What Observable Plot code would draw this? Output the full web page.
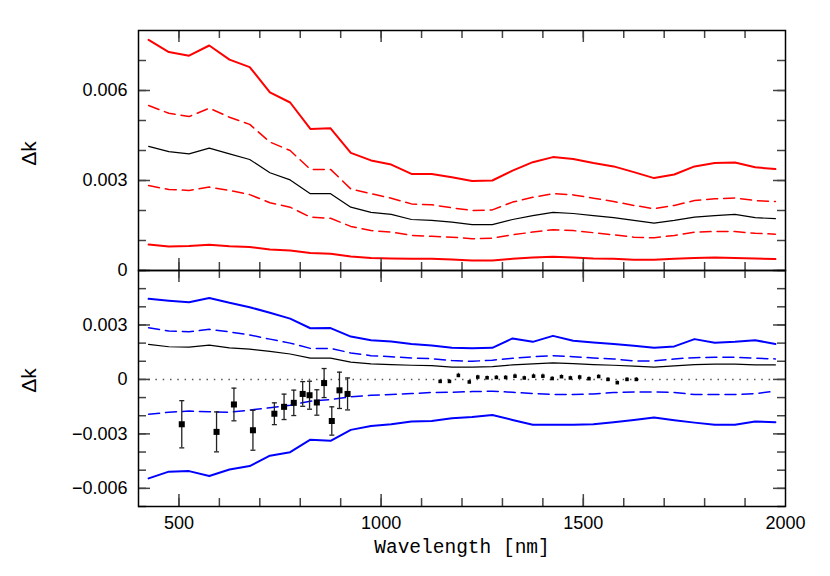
<!DOCTYPE html>
<html><head><meta charset="utf-8">
<script src="https://cdn.jsdelivr.net/npm/d3@7"></script>
<script src="https://cdn.jsdelivr.net/npm/@observablehq/plot@0.6"></script>
<style>
body{margin:0;background:#fff;}
#chart{position:relative;width:830px;height:576px;}
#chart svg{position:absolute;left:0;background:transparent;}
</style></head><body><div id="chart"></div>
<script>
// ---- data ----
const wl = [425,475,525,575,625,675,725,775,825,875,925,975,1025,1075,1125,1175,1225,1275,1325,1375,1425,1475,1525,1575,1625,1675,1725,1775,1825,1875,1925,1975];

const topRedHi = [0.00769,0.00728,0.00716,0.0075,0.00703,0.00678,0.00594,0.0056,0.00472,0.00474,0.00392,0.00367,0.00353,0.00322,0.00322,0.00311,0.00298,0.003,0.00333,0.00361,0.00378,0.00372,0.00358,0.00347,0.00328,0.00308,0.0032,0.00347,0.00358,0.0036,0.00344,0.00338];
const topRedDashHi = [0.0055,0.00524,0.00513,0.00541,0.00511,0.00487,0.00428,0.004,0.00337,0.00337,0.00272,0.00256,0.00241,0.00222,0.00219,0.00209,0.002,0.00202,0.00228,0.00244,0.00256,0.00252,0.00241,0.0023,0.00217,0.00206,0.00217,0.00233,0.00239,0.00242,0.00233,0.0023];
const topBlack = [0.00414,0.00396,0.00389,0.00408,0.00389,0.0037,0.00326,0.00302,0.00256,0.00256,0.00211,0.00194,0.00187,0.0017,0.00167,0.00161,0.00153,0.00153,0.0017,0.00183,0.00194,0.0019,0.00183,0.00176,0.00167,0.00158,0.00167,0.00178,0.00183,0.00187,0.00176,0.00173];
const topRedDashLo = [0.00283,0.0027,0.00267,0.00278,0.00267,0.00253,0.00226,0.00211,0.00178,0.00174,0.00147,0.00133,0.00128,0.00117,0.00114,0.00111,0.00106,0.00108,0.00119,0.00128,0.00136,0.00133,0.00126,0.00119,0.00111,0.00109,0.00117,0.00128,0.0013,0.0013,0.00124,0.00121];
const topRedLo = [0.00087,0.0008,0.00082,0.00086,0.00081,0.00078,0.0007,0.00067,0.00058,0.00056,0.00047,0.00042,0.0004,0.00039,0.00039,0.00037,0.00033,0.00033,0.00039,0.00043,0.00046,0.00043,0.0004,0.00039,0.00036,0.00036,0.00039,0.00042,0.00043,0.00042,0.0004,0.00038];

const botBlueHi = [0.00444,0.00434,0.00425,0.00449,0.00422,0.00398,0.00367,0.00335,0.00282,0.00283,0.00236,0.00216,0.00209,0.00195,0.00187,0.00174,0.00172,0.00174,0.00226,0.00207,0.0024,0.00213,0.00204,0.00195,0.00185,0.00174,0.00182,0.00222,0.00202,0.00207,0.00216,0.00195];
const botBlueDashHi = [0.00285,0.00267,0.00262,0.00276,0.00262,0.00245,0.00222,0.002,0.00171,0.00171,0.00146,0.00131,0.00125,0.00118,0.00114,0.00104,0.001,0.00106,0.00117,0.00125,0.00131,0.00125,0.00118,0.00113,0.00102,0.00102,0.00113,0.0012,0.00122,0.00122,0.00117,0.00113];
const botBlack = [0.00193,0.0018,0.00178,0.00189,0.00174,0.00167,0.00155,0.0014,0.00117,0.00117,0.00095,0.00086,0.00082,0.00078,0.00076,0.00068,0.00068,0.00071,0.0008,0.00086,0.00091,0.00087,0.00082,0.00078,0.00073,0.00068,0.00075,0.00082,0.00084,0.00084,0.0008,0.0008];
const botBlueDashLo = [-0.00192,-0.00181,-0.00174,-0.00178,-0.00181,-0.00169,-0.00156,-0.00142,-0.0012,-0.00111,-0.00096,-0.00087,-0.00083,-0.00078,-0.00072,-0.00071,-0.00067,-0.00065,-0.00071,-0.00078,-0.00083,-0.00083,-0.0008,-0.00072,-0.00069,-0.00069,-0.00072,-0.00083,-0.00083,-0.00083,-0.00078,-0.00065];
const botBlueLo = [-0.00545,-0.00508,-0.00505,-0.00532,-0.00496,-0.00477,-0.0042,-0.00401,-0.00332,-0.00338,-0.00278,-0.00256,-0.00247,-0.00232,-0.00229,-0.00214,-0.00207,-0.00196,-0.00223,-0.0025,-0.0025,-0.0025,-0.00247,-0.00236,-0.00223,-0.0021,-0.00225,-0.00238,-0.0025,-0.0025,-0.00232,-0.00236];

const ptWl  = [507,593,636,683,736,760,784,806,823,841,859,878,897,917];
const ptVal = [-0.00247,-0.00289,-0.00138,-0.0028,-0.00189,-0.00151,-0.00129,-0.0008,-0.00087,-0.00127,-0.0002,-0.00229,-0.0006,-0.0008];
const ptErr = [0.0013,0.0011,0.0009,0.0011,0.0006,0.0007,0.0007,0.00068,0.00077,0.0007,0.0008,0.00078,0.001,0.00088];

const spWl  = [1146,1169,1191,1218,1239,1262,1285,1308,1331,1354,1377,1400,1423,1446,1468,1491,1514,1538,1561,1584,1608,1631];
const spVal = [-0.00011,-0.00011,0.00022,-0.00014,0.00013,0.00009,0.00011,0.00011,0.00018,0.00008,0.00018,0.00018,0.00005,0.00015,0.00008,0.00013,0.00004,0.00016,0,-0.00018,0,0];
const spErr = [0.0001,0.0001,0.00012,0.0001,0.0001,0.0001,0.0001,0.0001,0.00012,0.0001,0.00012,0.00012,0.0001,0.0001,0.0001,0.0001,0.0001,0.0001,0.0001,0.0001,0.0001,0.0001];

const xMinorTicks = [500,600,700,800,900,1000,1100,1200,1300,1400,1500,1600,1700,1800,1900];
const xMajorTicks = [500,1000,1500];
const xTickLabels = [500,1000,1500,2000];
const topYMinor = [0,0.001,0.002,0.003,0.004,0.005,0.006,0.007];
const topYMajor = [0,0.003,0.006];
const botYMinor = [-0.007,-0.006,-0.005,-0.004,-0.003,-0.002,-0.001,0,0.001,0.002,0.003,0.004,0.005];
const botYMajor = [-0.006,-0.003,0,0.003];
const yLabel = "Δk";
const xLabel = "Wavelength [nm]";

// ---- layout ----
const W = 830, ML = 138, MR = 45;
const FW = W - ML - MR;
const xDom = [400, 2000];
const topDom = [0, 0.008], botDom = [-0.007, 0.006];
const sans = "Liberation Sans, Arial, Helvetica, sans-serif";
const series = arr => wl.map((w, i) => ({w, v: arr[i]}));
const fmt = d => d === 0 ? "0" : d3.format(".3f")(d);
const capSymbol = {draw(ctx, size) { const r = Math.sqrt(size / Math.PI); ctx.moveTo(-r, 0); ctx.lineTo(r, 0); }};
const tickStyle = {stroke: "#444", strokeWidth: 1.5};

// inward frame ticks as short rules; lengths given in pixels, converted to data units
function frameTicks(yDom, FH) {
  const yMinor = yDom === topDom ? topYMinor : botYMinor;
  const yMajor = yDom === topDom ? topYMajor : botYMajor;
  const dyPx = (yDom[1] - yDom[0]) / FH;
  const dxPx = (xDom[1] - xDom[0]) / FW;
  const marks = [];
  for (const [ticks, len] of [[xMinorTicks, 8], [xMajorTicks, 12]]) {
    marks.push(Plot.ruleX(ticks, {x: d => d, y1: yDom[0], y2: yDom[0] + len * dyPx, ...tickStyle}));
    marks.push(Plot.ruleX(ticks, {x: d => d, y1: yDom[1] - len * dyPx, y2: yDom[1], ...tickStyle}));
  }
  for (const [ticks, len] of [[yMinor, 8], [yMajor, 12]]) {
    marks.push(Plot.ruleY(ticks, {y: d => d, x1: xDom[0], x2: xDom[0] + len * dxPx, ...tickStyle}));
    marks.push(Plot.ruleY(ticks, {y: d => d, x1: xDom[1] - len * dxPx, x2: xDom[1], ...tickStyle}));
  }
  marks.push(Plot.axisY(yMajor, {anchor: "left", tickSize: 0, tickPadding: 11, tickFormat: fmt, fontSize: 18, label: null}));
  marks.push(Plot.frame({stroke: "black", strokeWidth: 1.5}));
  return marks;
}

const topPlot = Plot.plot({
  width: W, height: 272, marginLeft: ML, marginRight: MR, marginTop: 30, marginBottom: 2,
  style: {fontFamily: sans, background: "transparent", overflow: "visible"},
  x: {domain: xDom, axis: null},
  y: {domain: topDom, axis: null},
  marks: [
    Plot.line(series(topRedLo), {x: "w", y: "v", stroke: "#ff0000", strokeWidth: 2}),
    Plot.line(series(topRedDashLo), {x: "w", y: "v", stroke: "#ff0000", strokeWidth: 1.5, strokeDasharray: "11,6"}),
    Plot.line(series(topBlack), {x: "w", y: "v", stroke: "black", strokeWidth: 1.2}),
    Plot.line(series(topRedDashHi), {x: "w", y: "v", stroke: "#ff0000", strokeWidth: 1.5, strokeDasharray: "11,6"}),
    Plot.line(series(topRedHi), {x: "w", y: "v", stroke: "#ff0000", strokeWidth: 2}),
    ...frameTicks(topDom, 240),
    Plot.text([yLabel], {text: d => d, frameAnchor: "left", dx: -109, dy: 3, rotate: -90, textAnchor: "middle", lineAnchor: "middle", fontSize: 21})
  ]
});

const pts = ptWl.map((w, i) => ({w, v: ptVal[i], e: ptErr[i]}));
const sps = spWl.map((w, i) => ({w, v: spVal[i], e: spErr[i]}));

const botPlot = Plot.plot({
  width: W, height: 308, marginLeft: ML, marginRight: MR, marginTop: 2, marginBottom: 70,
  style: {fontFamily: sans, background: "transparent", overflow: "visible"},
  x: {domain: xDom, axis: null},
  y: {domain: botDom, axis: null},
  marks: [
    Plot.ruleY([0], {x1: wl[0], x2: wl[wl.length - 1], stroke: "#555", strokeWidth: 1.5, strokeDasharray: "1.5,5.8"}),
    Plot.line(series(botBlueLo), {x: "w", y: "v", stroke: "#0000ff", strokeWidth: 2}),
    Plot.line(series(botBlueDashLo), {x: "w", y: "v", stroke: "#0000ff", strokeWidth: 1.5, strokeDasharray: "11,6"}),
    Plot.line(series(botBlack), {x: "w", y: "v", stroke: "black", strokeWidth: 1.2}),
    Plot.line(series(botBlueDashHi), {x: "w", y: "v", stroke: "#0000ff", strokeWidth: 1.5, strokeDasharray: "11,6"}),
    Plot.line(series(botBlueHi), {x: "w", y: "v", stroke: "#0000ff", strokeWidth: 2}),
    Plot.ruleX(pts, {x: "w", y1: d => d.v - d.e, y2: d => d.v + d.e, stroke: "#222", strokeWidth: 1.3}),
    Plot.dot(pts, {x: "w", y: d => d.v + d.e, symbol: capSymbol, r: 2.5, stroke: "#222", fill: "none", strokeWidth: 1.3}),
    Plot.dot(pts, {x: "w", y: d => d.v - d.e, symbol: capSymbol, r: 2.5, stroke: "#222", fill: "none", strokeWidth: 1.3}),
    Plot.dot(pts, {x: "w", y: "v", symbol: "square", r: 3.4, fill: "black", stroke: "none"}),
    Plot.ruleX(sps, {x: "w", y1: d => d.v - d.e, y2: d => d.v + d.e, stroke: "#222", strokeWidth: 1}),
    Plot.dot(sps, {x: "w", y: "v", symbol: "square", r: 2, fill: "black", stroke: "none"}),
    ...frameTicks(botDom, 238),
    Plot.axisX(xTickLabels, {anchor: "bottom", tickSize: 0, tickPadding: 10, tickFormat: d => String(d), fontSize: 18, label: null}),
    Plot.text([xLabel], {text: d => d, frameAnchor: "bottom", dy: 46, lineAnchor: "bottom", fontFamily: "Liberation Mono, DejaVu Sans Mono, monospace", fontSize: 19.5}),
    Plot.text([yLabel], {text: d => d, frameAnchor: "left", dx: -109, dy: -8, rotate: -90, textAnchor: "middle", lineAnchor: "middle", fontSize: 21})
  ]
});

topPlot.style.top = "0px";
botPlot.style.top = "268px";
const container = document.getElementById("chart");
container.appendChild(topPlot);
container.appendChild(botPlot);
</script>
</body></html>
